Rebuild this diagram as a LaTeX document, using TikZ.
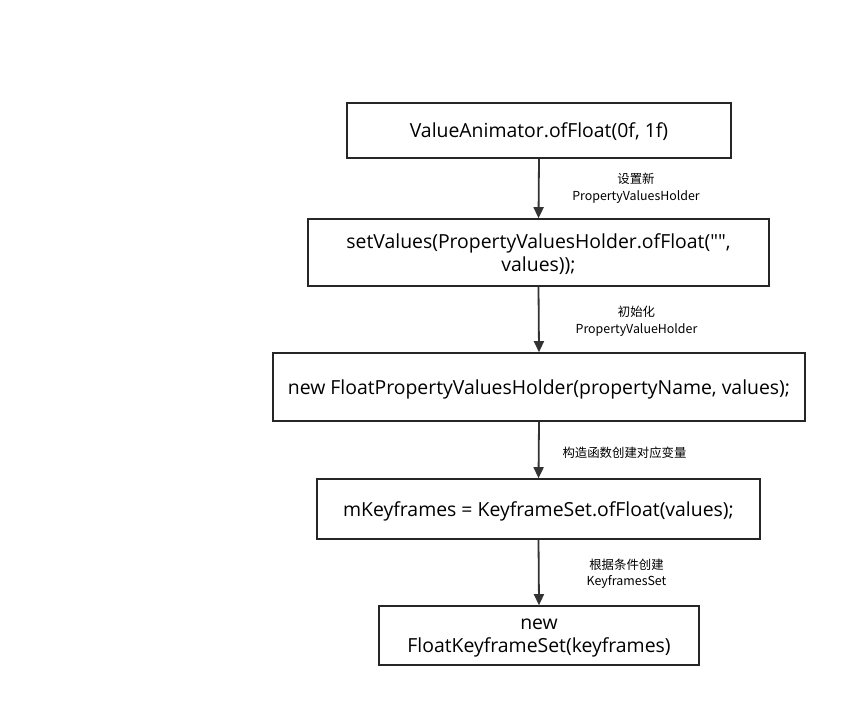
\documentclass[tikz,border=0pt]{standalone}
\usepackage{fontspec}
\setmainfont{Open Sans}
\newfontfamily\codefont{Open Sans}
\newfontfamily\cjk{Noto Sans CJK SC}
\usetikzlibrary{arrows.meta}

\tikzset{
	stepbox/.style={draw=black!85, line width=1.6pt, inner sep=0pt, align=center, text depth=0pt,
		font=\codefont\fontsize{19.4}{22.5}\selectfont},
	flow/.style={draw=black!80, line width=1.8pt, -{Triangle[length=11pt,width=10pt]}},
	note/.style={align=center, font=\cjk\fontsize{12.4}{16.5}\selectfont}
}

\begin{document}
\begin{tikzpicture}[x=1pt,y=-1pt]
		\useasboundingbox[fill=white] (0,0) rectangle (866,727);
		
		\node[stepbox, minimum width=384pt, minimum height=55pt] (anim) at (539,130.5) {ValueAnimator.ofFloat(0f, 1f)};
		\node[stepbox, minimum width=461pt, minimum height=67pt] (setv) at (538.5,252.5) {setValues(PropertyValuesHolder.ofFloat("",\\values));};
		\node[stepbox, minimum width=532pt, minimum height=68pt] (holder) at (539,387) {new FloatPropertyValuesHolder(propertyName, values);};
		\node[stepbox, minimum width=443pt, minimum height=60pt] (kfs) at (538.5,509) {mKeyframes = KeyframeSet.ofFloat(values);};
		\node[stepbox, minimum width=320pt, minimum height=59pt] (fkfs) at (539,635.5) {new\\FloatKeyframeSet(keyframes)};
		
		\draw[flow] (anim.south) -- (setv.north);
		\draw[flow] (setv.south) -- (holder.north);
		\draw[flow] (holder.south) -- (kfs.north);
		\draw[flow] (kfs.south) -- (fkfs.north);
		
		\node[note] (n1) at (636,188) {设置新\\PropertyValuesHolder};
		\node[note] (n2) at (636.5,321) {初始化\\PropertyValueHolder};
		\node[note] (n3) at (624.5,453) {构造函数创建对应变量};
		\node[note] (n4) at (626.5,573.5) {根据条件创建\\KeyframesSet};
	\end{tikzpicture}
\end{document}
